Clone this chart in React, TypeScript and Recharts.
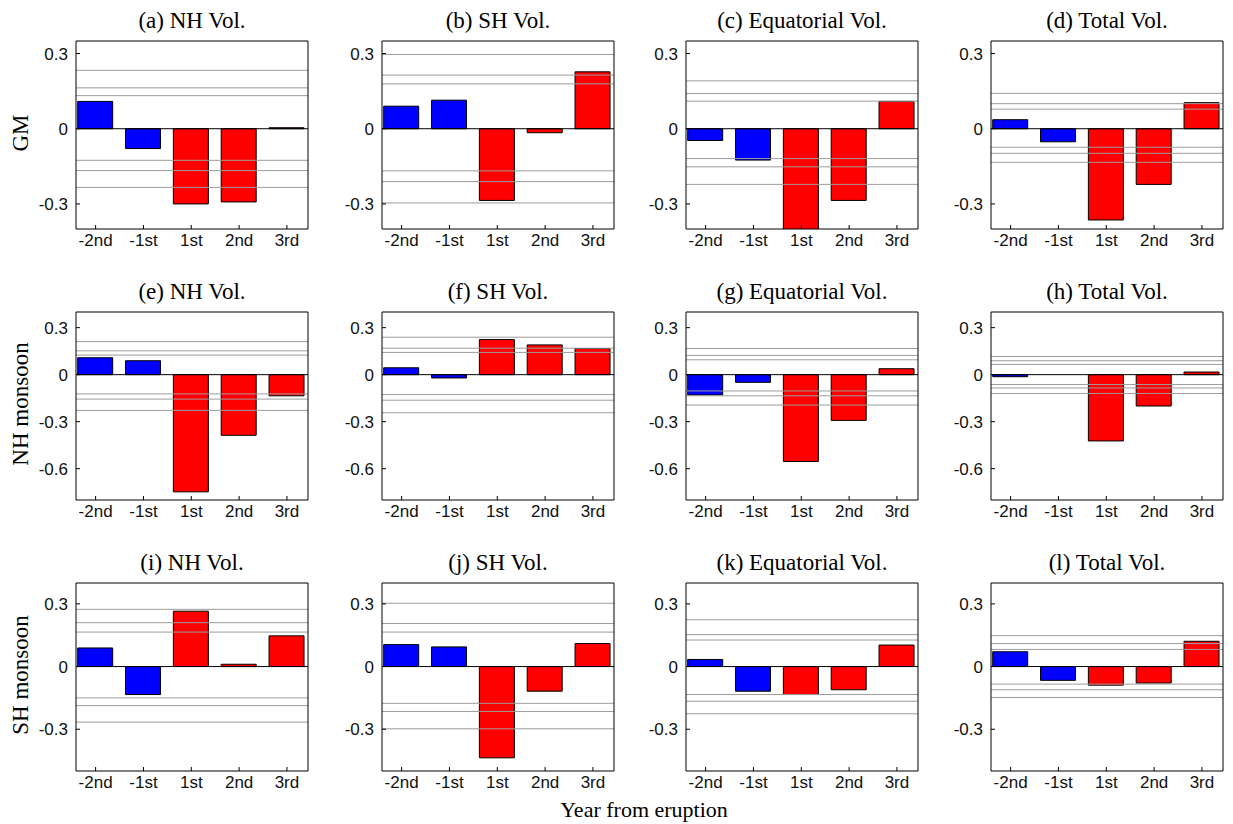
import { BarChart, Bar, XAxis, YAxis, Cell, ReferenceLine } from 'recharts';

// x categories: year relative to eruption
const YEARS = ['-2nd', '-1st', '1st', '2nd', '3rd'];
const ROW_NAMES = ['GM', 'NH monsoon', 'SH monsoon'];
const TITLES = [
  '(a) NH Vol.', '(b) SH Vol.', '(c) Equatorial Vol.', '(d) Total Vol.',
  '(e) NH Vol.', '(f) SH Vol.', '(g) Equatorial Vol.', '(h) Total Vol.',
  '(i) NH Vol.', '(j) SH Vol.', '(k) Equatorial Vol.', '(l) Total Vol.',
];

// composite anomalies per panel
const GM_NH = [0.109, -0.079, -0.3, -0.292, 0.004];
const GM_SH = [0.09, 0.114, -0.286, -0.016, 0.227];
const GM_EQ = [-0.047, -0.125, -0.42, -0.286, 0.109];
const GM_TOT = [0.036, -0.052, -0.364, -0.222, 0.104];
const NHM_NH = [0.108, 0.089, -0.748, -0.387, -0.135];
const NHM_SH = [0.044, -0.021, 0.224, 0.19, 0.167];
const NHM_EQ = [-0.129, -0.049, -0.554, -0.292, 0.038];
const NHM_TOT = [-0.013, 0, -0.423, -0.2, 0.017];
const SHM_NH = [0.089, -0.134, 0.265, 0.011, 0.147];
const SHM_SH = [0.105, 0.094, -0.437, -0.118, 0.11];
const SHM_EQ = [0.034, -0.118, -0.134, -0.111, 0.103];
const SHM_TOT = [0.071, -0.066, -0.089, -0.079, 0.121];

// significance levels (gray lines)
const GM_NH_SIG = [0.233, 0.163, 0.132, -0.126, -0.167, -0.234];
const GM_SH_SIG = [0.296, 0.214, 0.179, -0.168, -0.211, -0.296];
const GM_EQ_SIG = [0.191, 0.14, 0.11, -0.119, -0.152, -0.222];
const GM_TOT_SIG = [0.141, 0.1, 0.078, -0.074, -0.098, -0.134];
const NHM_NH_SIG = [0.211, 0.152, 0.125, -0.123, -0.156, -0.228];
const NHM_SH_SIG = [0.239, 0.169, 0.142, -0.127, -0.163, -0.243];
const NHM_EQ_SIG = [0.167, 0.123, 0.095, -0.104, -0.135, -0.194];
const NHM_TOT_SIG = [0.116, 0.089, 0.065, -0.063, -0.085, -0.12];
const SHM_NH_SIG = [0.274, 0.21, 0.165, -0.15, -0.187, -0.266];
const SHM_SH_SIG = [0.303, 0.206, 0.165, -0.176, -0.215, -0.298];
const SHM_EQ_SIG = [0.224, 0.153, 0.127, -0.134, -0.166, -0.226];
const SHM_TOT_SIG = [0.148, 0.11, 0.082, -0.084, -0.111, -0.148];

const VALUES = [
  [GM_NH, GM_SH, GM_EQ, GM_TOT],
  [NHM_NH, NHM_SH, NHM_EQ, NHM_TOT],
  [SHM_NH, SHM_SH, SHM_EQ, SHM_TOT],
];
const SIGS = [
  [GM_NH_SIG, GM_SH_SIG, GM_EQ_SIG, GM_TOT_SIG],
  [NHM_NH_SIG, NHM_SH_SIG, NHM_EQ_SIG, NHM_TOT_SIG],
  [SHM_NH_SIG, SHM_SH_SIG, SHM_EQ_SIG, SHM_TOT_SIG],
];
const ROW_TICKS = [[-0.3, 0, 0.3], [-0.6, -0.3, 0, 0.3], [-0.3, 0, 0.3]];
const ROW_DOMAINS = [[-0.4, 0.35], [-0.8, 0.4], [-0.5, 0.4]];

const X_DOMAIN = [0.59, 5.44];
const PLOT_LEFT = [76, 382, 686, 991];
const PLOT_TOP = [41, 312, 583];
const PLOT_W = 232;
const PLOT_H = 188;
const AXIS_W = 60;

const SANS = '"Liberation Sans", Arial, sans-serif';
const SERIF = '"Liberation Serif", "Times New Roman", serif';

function Panel({ row, col }: { row: number; col: number }) {
  const data = VALUES[row][col].map((v, i) => ({ x: i + 1, v }));
  const domain = ROW_DOMAINS[row];
  const left = PLOT_LEFT[col];
  const top = PLOT_TOP[row];
  return (
    <>
      <div
        style={{
          position: 'absolute', left: left - 10, top: top - 33, width: PLOT_W + 20, height: 26,
          lineHeight: '26px', textAlign: 'center', fontFamily: SERIF, fontSize: 23, color: '#000',
          whiteSpace: 'nowrap',
        }}
      >
        {TITLES[row * 4 + col]}
      </div>
      <div style={{ position: 'absolute', left: left - AXIS_W, top: top - 5 }}>
        <BarChart
          width={AXIS_W + PLOT_W + 5}
          height={5 + PLOT_H + 30 + 5}
          data={data}
          margin={{ top: 5, right: 5, bottom: 5, left: 0 }}
        >
          <XAxis
            dataKey="x"
            type="number"
            domain={X_DOMAIN}
            ticks={[1, 2, 3, 4, 5]}
            interval={0}
            allowDataOverflow
            tickFormatter={(t: number) => YEARS[t - 1]}
            tickSize={-4}
            tickMargin={9}
            height={30}
            axisLine={{ stroke: '#000' }}
            tickLine={{ stroke: '#000' }}
            tick={{ fill: '#111', fontSize: 17, fontFamily: SANS }}
          />
          <XAxis
            xAxisId="top"
            orientation="top"
            dataKey="x"
            type="number"
            domain={X_DOMAIN}
            allowDataOverflow
            mirror
            tick={false}
            tickLine={false}
            axisLine={{ stroke: '#000' }}
          />
          <YAxis
            type="number"
            domain={domain}
            ticks={ROW_TICKS[row]}
            allowDataOverflow
            width={AXIS_W}
            tickSize={-4}
            tickMargin={12}
            axisLine={{ stroke: '#000' }}
            tickLine={{ stroke: '#000' }}
            tick={{ fill: '#111', fontSize: 17, fontFamily: SANS }}
          />
          <YAxis
            yAxisId="right"
            orientation="right"
            type="number"
            domain={domain}
            allowDataOverflow
            mirror
            tick={false}
            tickLine={false}
            axisLine={{ stroke: '#000' }}
          />
          <Bar dataKey="v" barSize={35} stroke="#000" strokeWidth={1} isAnimationActive={false}>
            {data.map((d, i) => (
              <Cell key={`c-${i}`} fill={i < 2 ? '#0000ff' : '#ff0000'} />
            ))}
          </Bar>
          {SIGS[row][col].map((s, i) => (
            <ReferenceLine key={`s-${i}`} y={s} stroke="#9c9c9c" strokeWidth={1} />
          ))}
          <ReferenceLine y={0} stroke="#000" strokeWidth={1} />
        </BarChart>
      </div>
    </>
  );
}

export default function App() {
  return (
    <div style={{ position: 'absolute', left: 0, top: 0, width: 1233, height: 824, background: '#fff' }}>
      {ROW_NAMES.map((name, r) => (
        <div
          key={name}
          style={{
            position: 'absolute', left: 21 - 100, top: PLOT_TOP[r] + PLOT_H / 2 - 13 - 2, width: 200, height: 26,
            lineHeight: '26px', textAlign: 'center', fontFamily: SERIF, fontSize: 23, color: '#000',
            transform: 'rotate(-90deg)',
          }}
        >
          {name}
        </div>
      ))}
      {[0, 1, 2].map((r) => [0, 1, 2, 3].map((c) => <Panel key={`${r}-${c}`} row={r} col={c} />))}
      <div
        style={{
          position: 'absolute', left: 644 - 150, top: 797, width: 300, height: 26, lineHeight: '26px',
          textAlign: 'center', fontFamily: SERIF, fontSize: 22, color: '#000',
        }}
      >
        Year from eruption
      </div>
    </div>
  );
}
